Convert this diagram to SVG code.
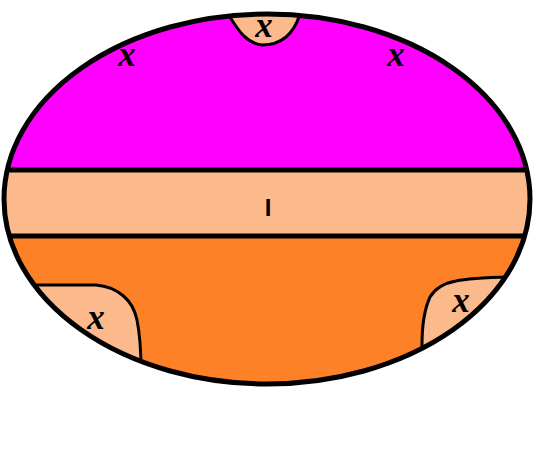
<svg xmlns="http://www.w3.org/2000/svg" width="540" height="453" viewBox="0 0 540 453">
<style>
.ln{fill:none;stroke:#000;stroke-width:5;stroke-linejoin:round;stroke-linecap:round}
.th{fill:none;stroke:#000;stroke-width:3;stroke-linejoin:round;stroke-linecap:round}
.pe{fill:#FCB98B}
.mk{font-family:"Liberation Serif","DejaVu Serif",serif;font-style:italic;font-weight:bold;font-size:35px;fill:#000;text-anchor:middle}
.lb{font-family:"Liberation Sans","DejaVu Sans",sans-serif;font-weight:bold;font-size:24px;fill:#000;text-anchor:middle}
</style>
<defs>
<clipPath id="ec"><ellipse cx="267" cy="199" rx="263" ry="185"/></clipPath>
</defs>
<rect width="540" height="453" fill="#fff"/>
<g id="regions" clip-path="url(#ec)">
<rect x="0" y="0" width="540" height="170" fill="#FF00FF"/>
<rect x="0" y="170" width="540" height="66" fill="#FCB98B"/>
<rect x="0" y="236" width="540" height="220" fill="#FE8127"/>
</g>
<g id="blob-top" clip-path="url(#ec)">
<path class="pe" d="M226,0 L227,12 C234,24 242,42 262,45 C284,45 296,30 301,12 L301,0 Z"/>
<path class="th" d="M228,14 C236,26 244,43 262,45 C284,45 295,30 300,14"/>
</g>
<g id="blob-left" clip-path="url(#ec)">
<path class="pe" d="M0,285 L96,285 C118,287 133,300 137,320 C140,335 141,350 141,400 L0,400 Z"/>
<path class="th" d="M0,285 L96,285 C118,287 133,300 137,320 C140,335 141,350 141,370"/>
</g>
<g id="blob-right" clip-path="url(#ec)">
<path class="pe" d="M422,400 L422,345 C422,325 424,310 430,297 C436,287 445,283 456,281 C470,278 490,277 540,276 L540,400 Z"/>
<path class="th" d="M422,360 L422,345 C422,325 424,310 430,297 C436,287 445,283 456,281 C470,278 490,277 540,276"/>
</g>
<g id="connectors">
<line class="ln" x1="0" y1="170" x2="540" y2="170" clip-path="url(#ec)"/>
<line class="ln" x1="0" y1="236" x2="540" y2="236" clip-path="url(#ec)"/>
</g>
<ellipse id="outline" class="ln" cx="267" cy="199" rx="263" ry="185"/>
<g id="labels">
<text class="mk" x="264" y="37">x</text>
<text class="mk" x="127" y="66">x</text>
<text class="mk" x="396" y="66">x</text>
<text class="mk" x="96" y="329">x</text>
<text class="mk" x="461" y="312">x</text>
<text class="lb" x="268" y="216">I</text>
</g>
</svg>
